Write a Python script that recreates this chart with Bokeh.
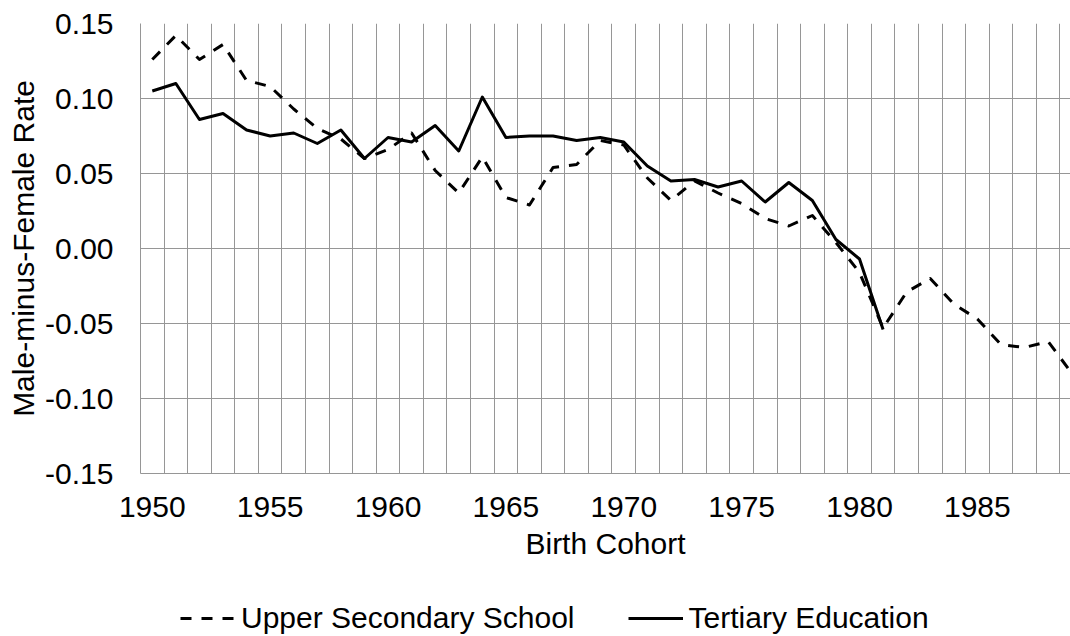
from bokeh.plotting import figure
from bokeh.layouts import column
from bokeh.models import FixedTicker, PrintfTickFormatter, Legend, LegendItem, Range1d, ColumnDataSource
from bokeh.embed import file_html
from bokeh.resources import INLINE

# ---- data ----
years_upper = list(range(1950, 1990))
upper_secondary = [0.126, 0.142, 0.126, 0.136, 0.112, 0.108, 0.093, 0.080, 0.073, 0.060,
                   0.066, 0.077, 0.052, 0.037, 0.061, 0.034, 0.029, 0.054, 0.056, 0.072,
                   0.069, 0.047, 0.032, 0.045, 0.037, 0.030, 0.020, 0.015, 0.022, 0.004,
                   -0.016, -0.053, -0.029, -0.020, -0.037, -0.047, -0.064, -0.066, -0.062, -0.083]

years_tertiary = list(range(1950, 1982))
tertiary = [0.105, 0.110, 0.086, 0.090, 0.079, 0.075, 0.077, 0.070, 0.079, 0.060,
            0.074, 0.071, 0.082, 0.065, 0.101, 0.074, 0.075, 0.075, 0.072, 0.074,
            0.071, 0.055, 0.045, 0.046, 0.041, 0.045, 0.031, 0.044, 0.032, 0.006,
            -0.007, -0.054]

x_ticks = [1950, 1955, 1960, 1965, 1970, 1975, 1980, 1985]
y_ticks = [-0.15, -0.10, -0.05, 0.0, 0.05, 0.10, 0.15]
series_names = ["Upper Secondary School", "Tertiary Education"]
x_title = "Birth Cohort"
y_title = "Male-minus-Female Rate"

FONT = "Liberation Sans"
GRID = "#969696"
DASH = "11 10"

# ---- main chart ----
p = figure(width=1070, height=573, output_backend="svg", toolbar_location=None,
           x_range=Range1d(1949.5, 1988.95), y_range=Range1d(-0.15, 0.15),
           min_border_left=140, min_border_top=23, min_border_right=0, min_border_bottom=100,
           background_fill_color="white", border_fill_color="white")
p.outline_line_color = None

src_u = ColumnDataSource(dict(x=years_upper, y=upper_secondary))
src_t = ColumnDataSource(dict(x=years_tertiary, y=tertiary))
p.line("x", "y", source=src_u, line_color="black", line_width=3, line_dash=DASH, line_join="round")
p.line("x", "y", source=src_t, line_color="black", line_width=3, line_join="round")

p.xgrid.ticker = FixedTicker(ticks=[1949.5 + i for i in range(41)])
p.xgrid.grid_line_color = GRID
p.xgrid.grid_line_width = 1
p.ygrid.grid_line_color = GRID
p.ygrid.grid_line_width = 1

p.xaxis.ticker = FixedTicker(ticks=x_ticks)
p.yaxis.ticker = FixedTicker(ticks=y_ticks)
p.yaxis.formatter = PrintfTickFormatter(format="%.2f")
for ax in (p.xaxis[0], p.yaxis[0]):
    ax.axis_line_color = GRID
    ax.axis_line_width = 1
    ax.major_tick_out = 0
    ax.major_tick_in = 0
    ax.minor_tick_out = 0
    ax.minor_tick_in = 0
    ax.major_label_text_font = FONT
    ax.major_label_text_font_size = "30px"
    ax.major_label_text_color = "black"
    ax.axis_label_text_font = FONT
    ax.axis_label_text_font_size = "30px"
    ax.axis_label_text_font_style = "normal"
    ax.axis_label_text_color = "black"

p.xaxis.axis_label = x_title
p.yaxis.axis_label = y_title
p.xaxis.major_label_standoff = 23
p.xaxis.axis_label_standoff = 7
p.yaxis.major_label_standoff = 27
p.yaxis.axis_label_standoff = 2

# ---- legend strip below the chart (its lines lie outside this strip's x range) ----
lg = figure(width=1070, height=63, output_backend="svg", toolbar_location=None,
            x_range=Range1d(0, 1), y_range=Range1d(0, 1),
            min_border_left=0, min_border_right=0, min_border_top=0, min_border_bottom=0,
            background_fill_color="white", border_fill_color="white")
lg.outline_line_color = None
lg.axis.visible = False
lg.grid.visible = False
k1 = lg.line("x", "y", source=src_u, line_color="black", line_width=3, line_dash=DASH)
k2 = lg.line("x", "y", source=src_t, line_color="black", line_width=3)

legend = Legend(items=[LegendItem(label=series_names[0], renderers=[k1]),
                       LegendItem(label=series_names[1], renderers=[k2])],
                orientation="horizontal", location=(40, 1),
                padding=0, margin=0, spacing=53, glyph_width=55, glyph_height=30,
                label_height=30, label_standoff=6,
                label_text_font=FONT, label_text_font_size="30px", label_text_color="black",
                background_fill_alpha=0, border_line_color=None)
lg.add_layout(legend)

layout = column(p, lg, spacing=0)
open("out.html", "w").write(file_html(layout, INLINE))
